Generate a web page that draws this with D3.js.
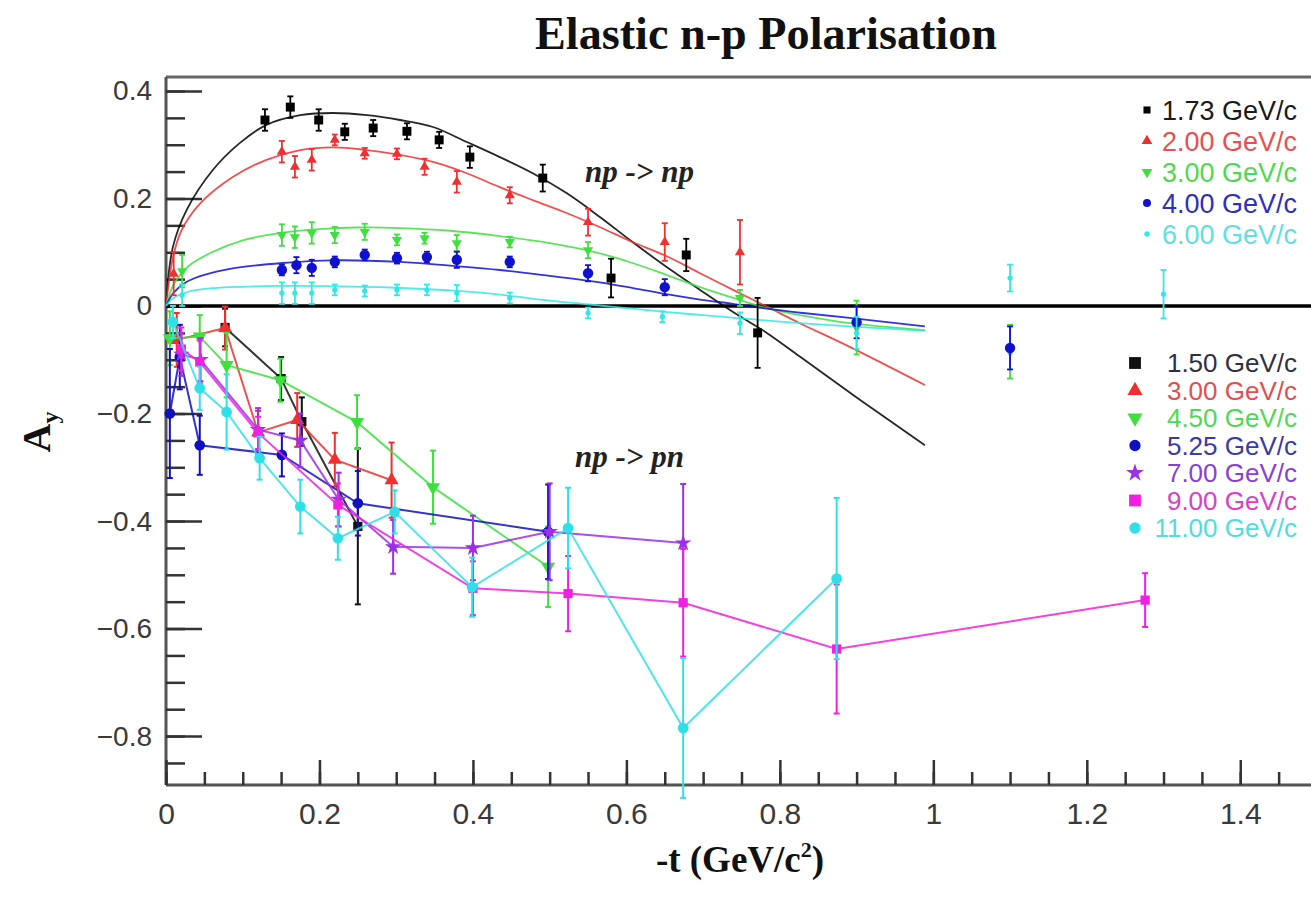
<!DOCTYPE html>
<html>
<head>
<meta charset="utf-8">
<script src="https://cdn.jsdelivr.net/npm/d3@7"></script>
<style>
  body { margin: 0; background: #fff; }
  svg { display: block; }
</style>
</head>
<body>
<svg id="chart" width="1311" height="898"></svg>
<script>
// np -> np : measured points [ -t, Ay, error ] per beam momentum
var np173 = [[0.129,0.346,0.02],[0.162,0.370,0.02],[0.199,0.346,0.02],[0.233,0.324,0.015],[0.270,0.331,0.015],
  [0.314,0.325,0.015],[0.356,0.309,0.015],[0.396,0.277,0.02],[0.491,0.238,0.025],[0.580,0.052,0.036],
  [0.678,0.095,0.03],[0.771,-0.050,0.065]];
var np200 = [[0.010,0.060,0.04],[0.151,0.287,0.02],[0.168,0.259,0.02],[0.190,0.272,0.02],[0.220,0.309,0.01],
  [0.259,0.284,0.01],[0.301,0.283,0.01],[0.337,0.259,0.015],[0.379,0.231,0.02],[0.448,0.206,0.015],
  [0.550,0.156,0.025],[0.650,0.119,0.035],[0.748,0.100,0.06]];
var np300 = [[0.021,0.065,0.03],[0.151,0.132,0.02],[0.168,0.128,0.02],[0.190,0.136,0.02],[0.220,0.132,0.015],
  [0.259,0.138,0.015],[0.301,0.123,0.01],[0.337,0.126,0.01],[0.379,0.117,0.015],[0.448,0.119,0.01],
  [0.550,0.104,0.015],[0.748,0.015,0.015],[0.900,-0.040,0.05],[1.100,-0.085,0.05]];
var np400 = [[0.151,0.067,0.01],[0.170,0.076,0.015],[0.190,0.071,0.015],[0.220,0.082,0.01],[0.259,0.095,0.01],
  [0.301,0.089,0.01],[0.340,0.091,0.01],[0.379,0.086,0.015],[0.448,0.082,0.01],[0.550,0.061,0.015],
  [0.650,0.035,0.015],[0.900,-0.030,0.03],[1.100,-0.078,0.04]];
var np600 = [[0.021,0.020,0.02],[0.151,0.024,0.02],[0.168,0.024,0.02],[0.190,0.024,0.02],[0.220,0.030,0.01],
  [0.259,0.028,0.01],[0.301,0.030,0.01],[0.340,0.030,0.01],[0.379,0.024,0.015],[0.448,0.015,0.01],
  [0.550,-0.013,0.01],[0.647,-0.020,0.01],[0.748,-0.032,0.02],[0.900,-0.050,0.03],[1.100,0.052,0.025],
  [1.300,0.022,0.045]];

// fitted curves for the np -> np sets [ -t, Ay ]
var fit173 = [[0,0],[0.009,0.11],[0.027,0.179],[0.061,0.253],[0.096,0.303],[0.131,0.337],[0.175,0.355],
  [0.218,0.359],[0.262,0.355],[0.305,0.346],[0.348,0.333],[0.392,0.305],[0.435,0.277],[0.478,0.247],
  [0.522,0.21],[0.565,0.166],[0.608,0.119],[0.652,0.073],[0.696,0.03],[0.739,-0.011],[0.783,-0.05],
  [0.826,-0.094],[0.9,-0.17],[0.989,-0.259]];
var fit200 = [[0,0],[0.009,0.09],[0.02,0.14],[0.044,0.19],[0.087,0.24],[0.131,0.272],[0.175,0.29],
  [0.218,0.295],[0.262,0.29],[0.305,0.281],[0.348,0.268],[0.392,0.247],[0.435,0.221],[0.478,0.197],
  [0.522,0.173],[0.565,0.147],[0.608,0.119],[0.652,0.093],[0.696,0.061],[0.739,0.03],[0.783,-0.001],
  [0.826,-0.032],[0.891,-0.076],[0.989,-0.147]];
var fit300 = [[0,0],[0.01,0.04],[0.03,0.075],[0.06,0.1],[0.1,0.122],[0.15,0.136],[0.2,0.143],[0.25,0.146],
  [0.305,0.145],[0.37,0.14],[0.435,0.13],[0.5,0.117],[0.56,0.1],[0.608,0.08],[0.652,0.058],[0.696,0.035],
  [0.739,0.015],[0.783,-0.004],[0.83,-0.018],[0.891,-0.032],[0.989,-0.045]];
var fit400 = [[0,0],[0.01,0.025],[0.027,0.045],[0.05,0.058],[0.087,0.07],[0.152,0.08],[0.218,0.085],
  [0.305,0.082],[0.37,0.075],[0.435,0.067],[0.5,0.056],[0.565,0.044],[0.61,0.033],[0.652,0.022],
  [0.696,0.012],[0.739,0.004],[0.783,-0.005],[0.83,-0.013],[0.891,-0.022],[0.989,-0.038]];
var fit600 = [[0,0],[0.01,0.015],[0.03,0.027],[0.06,0.033],[0.13,0.037],[0.2,0.037],[0.3,0.034],[0.38,0.028],
  [0.435,0.021],[0.5,0.01],[0.55,0.003],[0.6,-0.004],[0.65,-0.011],[0.7,-0.017],[0.75,-0.023],[0.8,-0.029],
  [0.85,-0.034],[0.9,-0.039],[0.989,-0.046]];

// np -> pn : charge exchange points [ -t, Ay, error ]
var pn150 = [[0.077,-0.040,0.035],[0.150,-0.135,0.04],[0.177,-0.215,0.045],[0.250,-0.410,0.145]];
var pn300 = [[0.014,-0.063,0.05],[0.077,-0.041,0.04],[0.120,-0.235,0.04],[0.171,-0.212,0.05],
  [0.220,-0.286,0.05],[0.294,-0.324,0.07]];
var pn450 = [[0.005,-0.060,0.05],[0.044,-0.057,0.04],[0.079,-0.110,0.06],[0.149,-0.138,0.04],
  [0.249,-0.216,0.05],[0.348,-0.337,0.068],[0.498,-0.485,0.075]];
var pn525 = [[0.005,-0.200,0.12],[0.018,-0.095,0.06],[0.044,-0.259,0.055],[0.151,-0.277,0.04],
  [0.250,-0.367,0.06],[0.498,-0.420,0.088]];
var pn700 = [[0.020,-0.090,0.04],[0.045,-0.100,0.04],[0.120,-0.230,0.04],[0.175,-0.250,0.05],
  [0.225,-0.360,0.05],[0.296,-0.448,0.05],[0.400,-0.450,0.06],[0.500,-0.420,0.09],[0.674,-0.441,0.11]];
var pn900 = [[0.020,-0.080,0.04],[0.044,-0.104,0.04],[0.120,-0.236,0.03],[0.224,-0.370,0.04],
  [0.400,-0.525,0.05],[0.524,-0.535,0.07],[0.674,-0.552,0.1],[0.874,-0.638,0.12],[1.276,-0.547,0.05]];
var pn1100 = [[0.009,-0.030,0.03],[0.044,-0.153,0.04],[0.079,-0.197,0.07],[0.122,-0.283,0.04],
  [0.175,-0.373,0.05],[0.224,-0.432,0.04],[0.298,-0.383,0.04],[0.399,-0.523,0.055],[0.524,-0.413,0.075],
  [0.674,-0.785,0.13],[0.874,-0.507,0.15]];

var upperLabels = ["1.73 GeV/c", "2.00 GeV/c", "3.00 GeV/c", "4.00 GeV/c", "6.00 GeV/c"];
var lowerLabels = ["1.50 GeV/c", "3.00 GeV/c", "4.50 GeV/c", "5.25 GeV/c", "7.00 GeV/c", "9.00 GeV/c", "11.00 GeV/c"];

var xTickValues = [0, 0.2, 0.4, 0.6, 0.8, 1, 1.2, 1.4];
var xTickLabels = ["0", "0.2", "0.4", "0.6", "0.8", "1", "1.2", "1.4"];
var yTickValues = [-0.8, -0.6, -0.4, -0.2, 0, 0.2, 0.4];
var yTickLabels = ["\u22120.8", "\u22120.6", "\u22120.4", "\u22120.2", "0", "0.2", "0.4"];

// styling
var upperColors = ["#000000", "#f03030", "#3ee03e", "#1010d0", "#30e8e8"];
var upperText = ["#1a1a1a", "#e85050", "#50d850", "#3030b8", "#60e0e0"];
var upperShapes = ["square", "up", "down", "circle", "circle"];
var upperSize = [80, 45, 45, 85, 22];

var lowerColors = ["#111111", "#f03030", "#3ee03e", "#1010c0", "#9b30e8", "#f020e0", "#30e0e8"];
var lowerText = ["#303040", "#e05050", "#50d850", "#3a3aa8", "#8a40d8", "#d840c8", "#50dde0"];
var lowerShapes = ["square", "up", "down", "circle", "star", "square", "circle"];

var svg = d3.select("#chart");
var padL = 166, padT = 77, padB = 785, padR = 1311;

var x = d3.scaleLinear().domain([0, 1.5]).range([padL, 1317]);
var y = d3.scaleLinear().domain([-0.891, 0.426]).range([padB, padT]);

function symbolFor(shape, size) {
  var t = {square: d3.symbolSquare, up: d3.symbolTriangle, down: d3.symbolTriangle,
           circle: d3.symbolCircle, star: d3.symbolStar}[shape];
  return d3.symbol().type(t).size(size)();
}
function rot(shape) { return shape === "down" ? " rotate(180)" : ""; }

// frame
svg.append("line").attr("x1", padL).attr("x2", padR).attr("y1", padT).attr("y2", padT)
  .attr("stroke", "#666").attr("stroke-width", 3);
svg.append("line").attr("x1", padL).attr("x2", padL).attr("y1", padT).attr("y2", padB)
  .attr("stroke", "#555").attr("stroke-width", 3);
svg.append("line").attr("x1", padL).attr("x2", padR).attr("y1", padB).attr("y2", padB)
  .attr("stroke", "#555").attr("stroke-width", 3);

// y axis, ticks drawn inwards
var yMinor = d3.range(-17, 9).map(function(k){ return k * 0.05; });
svg.append("g").attr("transform", "translate(" + padL + ",0)")
  .call(d3.axisLeft(y).tickValues(yMinor).tickSize(-19).tickFormat(function(){ return ""; }))
  .call(function(g){ g.select(".domain").remove(); g.selectAll("line").attr("stroke", "#333").attr("stroke-width", 2.5); });
svg.append("g").attr("transform", "translate(" + padL + ",0)")
  .call(d3.axisLeft(y).tickValues(yTickValues).tickSize(-36).tickPadding(14)
    .tickFormat(function(d, i){ return yTickLabels[i]; }))
  .call(function(g){
    g.select(".domain").remove();
    g.selectAll("line").attr("stroke", "#333").attr("stroke-width", 2.5);
    g.selectAll("text").attr("font-family", "Liberation Sans, Arial, sans-serif")
      .attr("font-size", 28).attr("fill", "#3a3a3a");
  });

// x axis
var xMinor = d3.range(0, 30).map(function(k){ return k * 0.05; });
svg.append("g").attr("transform", "translate(0," + padB + ")")
  .call(d3.axisBottom(x).tickValues(xMinor).tickSize(-13).tickFormat(function(){ return ""; }))
  .call(function(g){ g.select(".domain").remove(); g.selectAll("line").attr("stroke", "#333").attr("stroke-width", 2.5); });
svg.append("g").attr("transform", "translate(0," + padB + ")")
  .call(d3.axisBottom(x).tickValues(xTickValues).tickSize(-25).tickPadding(18)
    .tickFormat(function(d, i){ return xTickLabels[i]; }))
  .call(function(g){
    g.select(".domain").remove();
    g.selectAll("line").attr("stroke", "#333").attr("stroke-width", 2.5);
    g.selectAll("text").attr("font-family", "Liberation Sans, Arial, sans-serif")
      .attr("font-size", 30).attr("fill", "#3a3a3a");
  });

// zero line
svg.append("line").attr("x1", padL).attr("x2", padR).attr("y1", y(0)).attr("y2", y(0))
  .attr("stroke", "#000").attr("stroke-width", 3.5);

var plot = svg.append("g");

function errorBars(g, data, color, w) {
  var bars = g.selectAll(null).data(data).enter().append("g");
  bars.append("line")
    .attr("x1", function(d){ return x(d[0]); }).attr("x2", function(d){ return x(d[0]); })
    .attr("y1", function(d){ return y(d[1] + d[2]); }).attr("y2", function(d){ return y(d[1] - d[2]); })
    .attr("stroke", color).attr("stroke-width", w);
  [1, -1].forEach(function(s){
    bars.append("line")
      .attr("x1", function(d){ return x(d[0]) - 3; }).attr("x2", function(d){ return x(d[0]) + 3; })
      .attr("y1", function(d){ return y(d[1] + s * d[2]); }).attr("y2", function(d){ return y(d[1] + s * d[2]); })
      .attr("stroke", color).attr("stroke-width", w);
  });
}

function markers(g, data, shape, size, color) {
  g.selectAll(null).data(data).enter().append("path")
    .attr("d", symbolFor(shape, size))
    .attr("transform", function(d){ return "translate(" + x(d[0]) + "," + y(d[1]) + ")" + rot(shape); })
    .attr("fill", color);
}

// np -> np fits and points
var fitLine = d3.line().x(function(d){ return x(d[0]); }).y(function(d){ return y(d[1]); })
  .curve(d3.curveCatmullRom);
var upperFits = [fit173, fit200, fit300, fit400, fit600];
var upperSets = [np173, np200, np300, np400, np600];

upperFits.forEach(function(f, i){
  plot.append("path").attr("d", fitLine(f)).attr("fill", "none")
    .attr("stroke", upperColors[i]).attr("stroke-width", 1.8).attr("opacity", 0.85);
});
upperSets.forEach(function(s, i){
  var g = plot.append("g");
  errorBars(g, s, upperColors[i], 1.8);
  markers(g, s, upperShapes[i], upperSize[i], upperColors[i]);
});

// np -> pn points joined by lines
var lowerSets = [pn150, pn300, pn450, pn525, pn700, pn900, pn1100];
var joinLine = d3.line().x(function(d){ return x(d[0]); }).y(function(d){ return y(d[1]); });
lowerSets.forEach(function(s, i){
  var g = plot.append("g");
  g.append("path").attr("d", joinLine(s)).attr("fill", "none")
    .attr("stroke", lowerColors[i]).attr("stroke-width", 2).attr("opacity", 0.85);
  errorBars(g, s, lowerColors[i], 2);
  markers(g, s, lowerShapes[i], lowerShapes[i] === "circle" ? 90 : 85, lowerColors[i]);
});

// legends
var leg1 = svg.append("g");
upperLabels.forEach(function(lab, i){
  var yy = 110 + i * 31;
  leg1.append("path").attr("d", symbolFor(upperShapes[i], i === 4 ? 22 : 50))
    .attr("transform", "translate(1147," + yy + ")" + rot(upperShapes[i]))
    .attr("fill", upperColors[i]);
  leg1.append("text").attr("x", 1297).attr("y", yy).attr("dy", "0.36em")
    .attr("text-anchor", "end").attr("font-family", "Liberation Sans, Arial, sans-serif")
    .attr("font-size", 27).attr("fill", upperText[i]).text(lab);
});

var leg2 = svg.append("g");
lowerLabels.forEach(function(lab, i){
  var yy = 363 + i * 27.5;
  leg2.append("path").attr("d", symbolFor(lowerShapes[i], lowerShapes[i] === "square" ? 140 : 100))
    .attr("transform", "translate(1135," + yy + ")" + rot(lowerShapes[i]))
    .attr("fill", lowerColors[i]);
  leg2.append("text").attr("x", 1297).attr("y", yy).attr("dy", "0.36em")
    .attr("text-anchor", "end").attr("font-family", "Liberation Sans, Arial, sans-serif")
    .attr("font-size", 26).attr("fill", lowerText[i]).text(lab);
});

// labels
var serif = "Liberation Serif, Times New Roman, serif";
svg.append("text").attr("x", 535).attr("y", 49).attr("textLength", 462).attr("lengthAdjust", "spacingAndGlyphs")
  .attr("font-family", serif).attr("font-weight", "bold").attr("font-size", 46).attr("fill", "#111")
  .text("Elastic n-p Polarisation");

svg.append("text").attr("x", 585).attr("y", 182).attr("font-family", serif).attr("font-weight", "bold")
  .attr("font-style", "italic").attr("font-size", 31).attr("fill", "#222").text("np -> np");
svg.append("text").attr("x", 575).attr("y", 467).attr("font-family", serif).attr("font-weight", "bold")
  .attr("font-style", "italic").attr("font-size", 31).attr("fill", "#222").text("np -> pn");

var xt = svg.append("text").attr("x", 740).attr("y", 872).attr("text-anchor", "middle")
  .attr("font-family", serif).attr("font-weight", "bold").attr("font-size", 37).attr("fill", "#111");
xt.append("tspan").text("-t (GeV/c");
xt.append("tspan").attr("font-size", 22).attr("dy", -15).text("2");
xt.append("tspan").attr("dy", 15).text(")");

var yt = svg.append("text").attr("transform", "translate(50,432) rotate(-90)").attr("text-anchor", "middle")
  .attr("font-family", serif).attr("font-weight", "bold").attr("font-size", 40).attr("fill", "#111");
yt.append("tspan").text("A");
yt.append("tspan").attr("font-size", 24).attr("dy", 8).text("y");
</script>
</body>
</html>
